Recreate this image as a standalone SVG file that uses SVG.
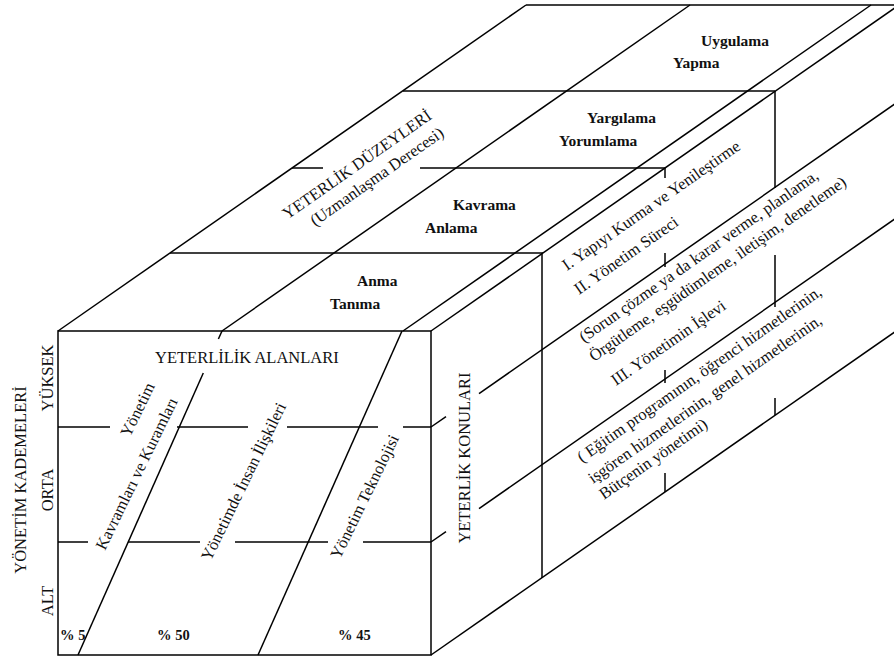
<svg xmlns="http://www.w3.org/2000/svg" width="894" height="662" viewBox="0 0 894 662">
  <style>
    .ln { stroke: #000; stroke-width: 1.5; fill: none; stroke-linecap: butt; }
    .t { font-family: "Liberation Serif", "Times New Roman", serif; font-size: 16.5px; fill: #111; }
    .b { font-family: "Liberation Serif", "Times New Roman", serif; font-size: 15.5px; font-weight: bold; fill: #111; }
    .p { font-family: "Liberation Serif", "Times New Roman", serif; font-size: 14.5px; font-weight: bold; fill: #111; }
  </style>
  <rect width="894" height="662" fill="#fff"/>

  <!-- box edges and grid lines -->
  <g id="connectors" class="ln">
    <!-- front face -->
    <rect x="58" y="331" width="373" height="324"/>
    <!-- top face outline -->
    <line x1="58" y1="331" x2="526" y2="5"/>
    <line x1="526" y1="5" x2="894" y2="5"/>
    <line x1="431" y1="331" x2="899" y2="5"/>
    <!-- top face level dividers -->
    <line x1="170" y1="253" x2="543" y2="253"/>
    <line x1="292" y1="168" x2="323" y2="168"/>
    <line x1="420" y1="168" x2="665" y2="168"/>
    <line x1="403" y1="91" x2="775" y2="91"/>
    <!-- top face depth lines -->
    <line x1="222" y1="331" x2="690" y2="5"/>
    <line x1="403" y1="331" x2="871" y2="5"/>
    <!-- right face -->
    <line x1="431" y1="655" x2="899" y2="329"/>
    <line x1="431" y1="427" x2="446" y2="416.6"/>
    <line x1="479" y1="393.6" x2="899" y2="101"/>
    <line x1="431" y1="542" x2="446" y2="531.6"/>
    <line x1="479" y1="508.6" x2="899" y2="216"/>
    <!-- right face slice verticals -->
    <line x1="542" y1="253" x2="542" y2="578"/>
    <line x1="665" y1="168" x2="665" y2="178"/>
    <line x1="665" y1="253" x2="665" y2="267"/>
    <line x1="665" y1="370" x2="665" y2="383"/>
    <line x1="665" y1="473" x2="665" y2="492"/>
    <line x1="775" y1="91" x2="775" y2="188"/>
    <line x1="775" y1="255" x2="775" y2="307"/>
    <line x1="775" y1="398" x2="775" y2="415"/>
    <!-- front face level lines -->
    <line x1="58" y1="427" x2="110" y2="427"/>
    <line x1="177" y1="427" x2="248" y2="427"/>
    <line x1="287" y1="427" x2="378" y2="427"/>
    <line x1="403" y1="427" x2="431" y2="427"/>
    <line x1="58" y1="542" x2="88" y2="542"/>
    <line x1="128" y1="542" x2="200" y2="542"/>
    <line x1="235" y1="542" x2="328" y2="542"/>
    <line x1="363" y1="542" x2="431" y2="542"/>
    <!-- front face area dividers -->
    <line x1="78" y1="655" x2="203.3" y2="373"/>
    <line x1="218.4" y1="339" x2="222" y2="331"/>
    <line x1="258" y1="655" x2="402" y2="331"/>
  </g>

  <!-- axis labels -->
  <g id="yonetim-kademeleri">
    <text class="t" text-anchor="middle" transform="translate(26,480) rotate(-90)">YÖNETİM KADEMELERİ</text>
  </g>
  <g id="kademe-yuksek">
    <text class="t" text-anchor="middle" transform="translate(53,378) rotate(-90)">YÜKSEK</text>
  </g>
  <g id="kademe-orta">
    <text class="t" text-anchor="middle" transform="translate(53,490) rotate(-90)">ORTA</text>
  </g>
  <g id="kademe-alt">
    <text class="t" text-anchor="middle" transform="translate(53,601) rotate(-90)">ALT</text>
  </g>
  <g id="yeterlik-konulari">
    <text class="t" text-anchor="middle" transform="translate(470,458) rotate(-90)">YETERLİK KONULARI</text>
  </g>

  <!-- front face: competence areas -->
  <g id="yeterlilik-alanlari">
    <text class="t" x="155" y="363">YETERLİLİK ALANLARI</text>
  </g>
  <g id="alan-kavramlar">
    <text class="t" text-anchor="middle" transform="translate(142.5,412) rotate(-64)">Yönetim</text>
    <text class="t" text-anchor="middle" transform="translate(141.5,476) rotate(-64)">Kavramları ve Kuramları</text>
    <text class="p" x="60" y="640">% 5</text>
  </g>
  <g id="alan-insan">
    <text class="t" text-anchor="middle" transform="translate(248.5,484) rotate(-64)">Yönetimde İnsan İlişkileri</text>
    <text class="p" x="157" y="640">% 50</text>
  </g>
  <g id="alan-teknoloji">
    <text class="t" text-anchor="middle" transform="translate(369.5,499) rotate(-64)">Yönetim Teknolojisi</text>
    <text class="p" x="338" y="640">% 45</text>
  </g>

  <!-- top face: competence levels -->
  <g id="yeterlik-duzeyleri">
    <text class="t" text-anchor="middle" transform="translate(360,169) rotate(-35)">YETERLİK DÜZEYLERİ</text>
    <text class="t" text-anchor="middle" transform="translate(380,181) rotate(-35)">(Uzmanlaşma Derecesi)</text>
  </g>
  <g id="duzey-anma">
    <text class="b" x="357" y="286">Anma</text>
    <text class="b" x="330" y="309">Tanıma</text>
  </g>
  <g id="duzey-kavrama">
    <text class="b" x="453" y="210">Kavrama</text>
    <text class="b" x="425" y="233">Anlama</text>
  </g>
  <g id="duzey-yargilama">
    <text class="b" x="587" y="122.5">Yargılama</text>
    <text class="b" x="559" y="146">Yorumlama</text>
  </g>
  <g id="duzey-uygulama">
    <text class="b" x="701" y="45.5">Uygulama</text>
    <text class="b" x="673" y="68">Yapma</text>
  </g>

  <!-- right face: competence subjects -->
  <g id="konu-yapi">
    <text class="t" transform="translate(567,271) rotate(-35)">I. Yapıyı Kurma ve Yenileştirme</text>
    <text class="t" transform="translate(579,295) rotate(-35)">II. Yönetim Süreci</text>
  </g>
  <g id="konu-islev">
    <text class="t" transform="translate(584,343) rotate(-35)">(Sorun çözme ya da karar verme, planlama,</text>
    <text class="t" transform="translate(594,362) rotate(-35)">Örgütleme, eşgüdümleme, iletişim, denetleme)</text>
    <text class="t" transform="translate(616,386) rotate(-35)">III. Yönetimin İşlevi</text>
  </g>
  <g id="konu-hizmet">
    <text class="t" transform="translate(582,463) rotate(-35)">( Eğitim programının, öğrenci hizmetlerinin,</text>
    <text class="t" transform="translate(593,484) rotate(-35)">işgören hizmetlerinin, genel hizmetlerinin,</text>
    <text class="t" transform="translate(604,500) rotate(-35)">Bütçenin yönetimi)</text>
  </g>
</svg>
